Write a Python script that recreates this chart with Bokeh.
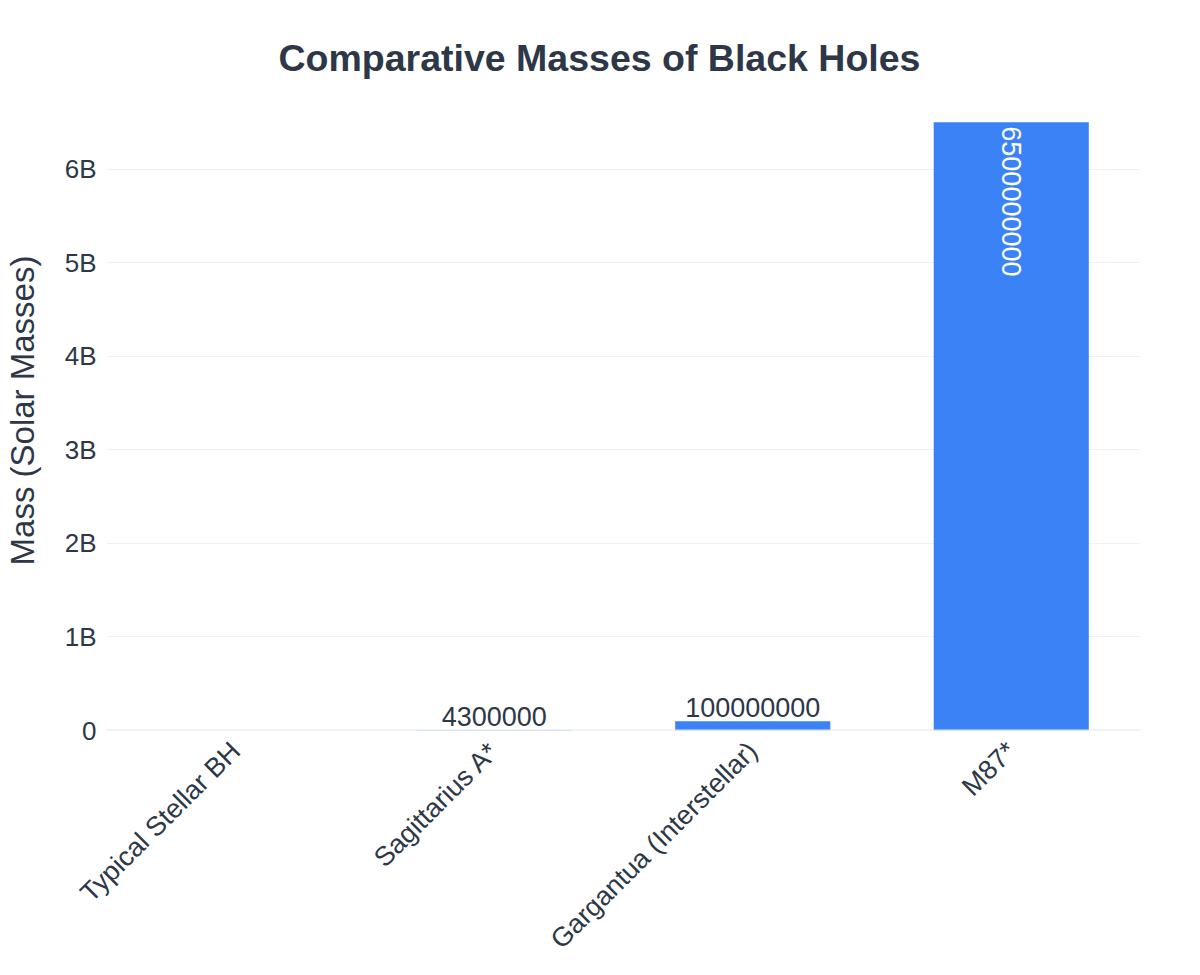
import math
from bokeh.plotting import figure
from bokeh.models import ColumnDataSource, FixedTicker, Span, Title
from bokeh.core.properties import value
from bokeh.embed import file_html
from bokeh.resources import INLINE

categories = ["Typical Stellar BH", "Sagittarius A*", "Gargantua (Interstellar)", "M87*"]
masses = [10, 4300000, 100000000, 6500000000]
label_outside = [False, True, True, False]  # label drawn above the bar
label_inside = [False, False, False, True]  # label drawn inside the bar
y_ticks = [0, 1e9, 2e9, 3e9, 4e9, 5e9, 6e9]
y_tick_labels = ["0", "1B", "2B", "3B", "4B", "5B", "6B"]
title_text = "Comparative Masses of Black Holes"

FONT = "Liberation Sans"
TXT = "#2d3748"
BAR = "#3b82f6"

p = figure(x_range=categories, y_range=(0, 6.84e9), width=1200, height=975,
           output_backend="svg", toolbar_location=None,
           min_border_left=103, min_border_right=60, min_border_top=90, min_border_bottom=245)
p.outline_line_color = None

src = ColumnDataSource(dict(cat=categories, mass=masses))
p.vbar(x="cat", top="mass", width=0.6, source=src, fill_color=BAR, line_color=None)

out_idx = [i for i in range(len(categories)) if label_outside[i]]
out_src = ColumnDataSource(dict(cat=[categories[i] for i in out_idx],
                                mass=[masses[i] for i in out_idx],
                                lab=[str(masses[i]) for i in out_idx]))
p.text(x="cat", y="mass", text="lab", source=out_src, y_offset=-4,
       text_align="center", text_baseline="bottom", text_color=TXT,
       text_font=value(FONT), text_font_size="27px")

in_idx = [i for i in range(len(categories)) if label_inside[i]]
in_src = ColumnDataSource(dict(cat=[categories[i] for i in in_idx],
                               mass=[masses[i] for i in in_idx],
                               lab=[str(masses[i]) for i in in_idx]))
p.text(x="cat", y="mass", text="lab", source=in_src, y_offset=4, angle=-math.pi / 2,
       text_align="left", text_baseline="middle", text_color="white",
       text_font=value(FONT), text_font_size="27px")

p.add_layout(Span(location=0, dimension="width", line_color="#e2e8f0", line_width=2))

# invisible spacer title next to the frame, real title above it
p.title.text = "."
p.title.text_font_size = "2px"
p.title.text_alpha = 0
p.title.standoff = 18
p.add_layout(Title(text=title_text, align="left", offset=172, text_font=FONT,
                   text_font_size="37.5px", text_font_style="bold", text_color=TXT,
                   standoff=23), "above")

p.xgrid.grid_line_color = None
p.ygrid.grid_line_color = "#eef1f6"
p.ygrid.grid_line_width = 1

p.yaxis.ticker = FixedTicker(ticks=y_ticks)
p.yaxis.major_label_overrides = {t: l for t, l in zip(y_ticks, y_tick_labels)}
p.yaxis.axis_line_color = None
p.yaxis.major_tick_line_color = None
p.yaxis.minor_tick_line_color = None
p.yaxis.major_label_text_font = FONT
p.yaxis.major_label_text_font_size = "26px"
p.yaxis.major_label_text_color = TXT
p.yaxis.major_label_standoff = 4
p.yaxis.axis_label = "Mass (Solar Masses)"
p.yaxis.axis_label_text_font = FONT
p.yaxis.axis_label_text_font_size = "33px"
p.yaxis.axis_label_text_font_style = "normal"
p.yaxis.axis_label_text_color = TXT
p.yaxis.axis_label_standoff = 21

p.xaxis.axis_line_color = None
p.xaxis.major_tick_line_color = None
p.xaxis.minor_tick_line_color = None
p.xaxis.major_label_orientation = math.pi / 4
p.xaxis.major_label_text_font = FONT
p.xaxis.major_label_text_font_size = "27px"
p.xaxis.major_label_text_color = TXT
p.xaxis.major_label_standoff = 10

open("out.html", "w").write(file_html(p, INLINE))
